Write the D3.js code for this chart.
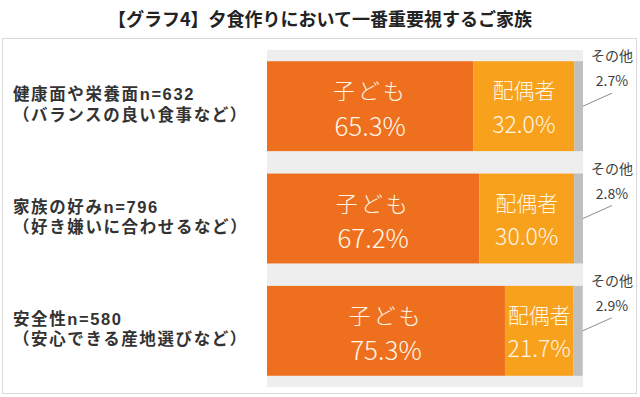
<!DOCTYPE html>
<html>
<head>
<meta charset="utf-8">
<script src="https://cdn.jsdelivr.net/npm/d3@7"></script>
<style>
  body { margin: 0; background: #fff; }
  svg { display: block; font-family: "Noto Sans CJK JP", "Noto Sans", sans-serif; }
</style>
</head>
<body>
<div id="main"></div>
<script>
// data
const title = '【グラフ4】夕食作りにおいて一番重要視するご家族';
const categories = ['健康面や栄養面n=632', '家族の好みn=796', '安全性n=580'];
const subLabels = ['（バランスの良い食事など）', '（好き嫌いに合わせるなど）', '（安心できる産地選びなど）'];
const seriesNames = ['子ども', '配偶者', 'その他'];
const childValues = [65.3, 67.2, 75.3];
const spouseValues = [32.0, 30.0, 21.7];
const otherValues = [2.7, 2.8, 2.9];

const width = 640, height = 397;
const colors = ['#ee701f', '#f8a11c', '#bfbfbf'];

const rows = categories.map((c, i) => ({
    cat: c,
    sub: subLabels[i],
    '子ども': childValues[i],
    '配偶者': spouseValues[i],
    'その他': otherValues[i]
}));

const svg = d3.select('#main')
    .append('svg')
    .attr('width', width)
    .attr('height', height)
    .attr('viewBox', [0, 0, width, height]);

// title
svg.append('text')
    .attr('x', 320)
    .attr('y', 26)
    .attr('text-anchor', 'middle')
    .attr('font-size', 18)
    .attr('font-weight', 'bold')
    .attr('fill', '#222')
    .text(title);

// outer frame
svg.append('rect')
    .attr('x', 2.5).attr('y', 38.5)
    .attr('width', 634).attr('height', 355)
    .attr('fill', 'none')
    .attr('stroke', '#d9d9d9');

const x = d3.scaleLinear().domain([0, 100]).range([267, 583]);
const y = d3.scaleBand()
    .domain(categories)
    .range([50, 387])
    .paddingInner(0.2)
    .paddingOuter(0.1);

// plot background band
svg.append('rect')
    .attr('x', x(0)).attr('y', 50)
    .attr('width', x(100) - x(0)).attr('height', 337)
    .attr('fill', '#eeeeee');

const stack = d3.stack().keys(seriesNames)(rows);

const layer = svg.append('g')
    .selectAll('g')
    .data(stack)
    .join('g')
    .attr('fill', (d, i) => colors[i]);

layer.selectAll('rect')
    .data(d => d)
    .join('rect')
    .attr('x', d => x(d[0]))
    .attr('y', d => y(d.data.cat))
    .attr('width', d => x(d[1]) - x(d[0]))
    .attr('height', y.bandwidth());

// labels inside child / spouse segments
const fontName = [22, 21];
const fontPct = [26, 23];
stack.slice(0, 2).forEach((s, si) => {
    const g = svg.append('g').attr('fill', '#fff6e6').attr('text-anchor', 'middle');
    s.forEach(d => {
        const cx = (x(d[0]) + x(d[1])) / 2;
        const cy = y(d.data.cat) + y.bandwidth() / 2;
        g.append('text')
            .attr('x', cx)
            .attr('y', cy - 17)
            .attr('dominant-baseline', 'central')
            .attr('font-size', fontName[si])
            .attr('letter-spacing', si === 0 ? 3 : 0)
            .attr('font-weight', 300)
            .text(s.key);
        g.append('text')
            .attr('x', cx)
            .attr('y', cy + (si === 0 ? 29.5 : 26.5))
            .attr('font-size', fontPct[si])
            .attr('font-weight', 300)
            .text(d[1] - d[0] > 0 ? d.data[s.key].toFixed(1) + '%' : '');
    });
});

// "other" callouts outside the bar
const other = stack[2];
const callout = svg.append('g').attr('text-anchor', 'middle').attr('fill', '#404040').attr('font-size', 14);
other.forEach(d => {
    const cy = y(d.data.cat) + y.bandwidth() / 2;
    const x0 = x(d[1]);
    callout.append('line')
        .attr('x1', x0).attr('y1', cy)
        .attr('x2', x0 + 29).attr('y2', cy - 13)
        .attr('stroke', '#8c8c8c')
        .attr('stroke-width', 1);
    callout.append('text')
        .attr('x', 612)
        .attr('y', cy - 26)
        .attr('dominant-baseline', 'central')
        .text(d.data['その他'].toFixed(1) + '%');
    callout.append('text')
        .attr('x', 612)
        .attr('y', cy - 51)
        .attr('dominant-baseline', 'central')
        .text('その他');
});

// category labels on the left; Liberation Sans first keeps the line box tight,
// CJK glyphs fall back to Noto Sans CJK
const catLabels = svg.append('g')
    .attr('fill', '#333')
    .attr('font-family', '"Liberation Sans", "Noto Sans CJK JP", sans-serif')
    .attr('font-weight', 'bold')
    .attr('font-size', 16.5)
    .attr('letter-spacing', 1.6);
rows.forEach(r => {
    const cy = y(r.cat) + y.bandwidth() / 2;
    catLabels.append('text')
        .attr('x', 13)
        .attr('y', cy - 6)
        .text(r.cat);
    catLabels.append('text')
        .attr('x', 13)
        .attr('y', cy + 14.5)
        .text(r.sub);
});
</script>
</body>
</html>
